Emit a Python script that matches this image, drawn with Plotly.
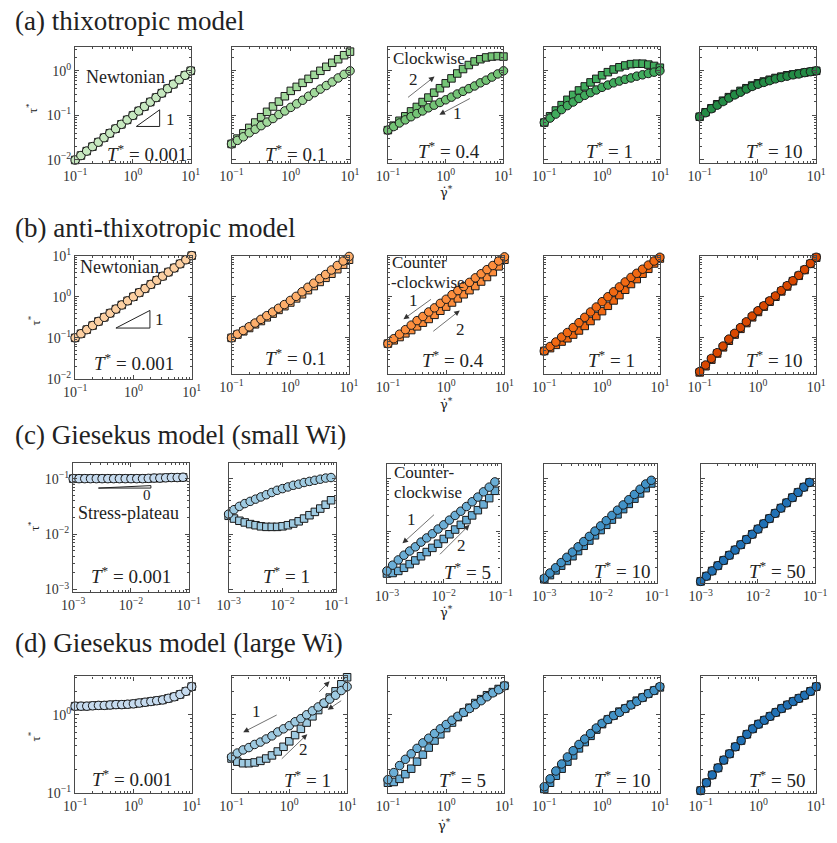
import plotly.graph_objects as go

W, H = 837, 843
SERIF = "Liberation Serif"
AX = "#4a4a4a"
EDGE = "#1a1a1a"

# ---------------- data ----------------
# shear-rate grids (x values)
GAMMA_DOT = [0.1, 0.1259, 0.1585, 0.1995, 0.2512, 0.3162, 0.3981, 0.5012, 0.631, 0.7943,
             1.0, 1.259, 1.585, 1.995, 2.512, 3.162, 3.981, 5.012, 6.31, 7.943, 10.0]
GAMMA_DOT_SMALL = [0.001, 0.001259, 0.001585, 0.001995, 0.002512, 0.003162, 0.003981, 0.005012,
                   0.00631, 0.007943, 0.01, 0.01259, 0.01585, 0.01995, 0.02512, 0.03162,
                   0.03981, 0.05012, 0.0631, 0.07943, 0.1]

# stress values, stored as decade exponents (tau* = 10**exponent)
A1_EXP = [-2.0, -1.9, -1.8, -1.7, -1.6, -1.5, -1.4, -1.3, -1.2, -1.1, -1.0,
          -0.9, -0.8, -0.7, -0.6, -0.5, -0.4, -0.3, -0.2, -0.1, 0.0]
A2_CIRC_EXP = [-1.64, -1.56, -1.48, -1.39, -1.31, -1.23, -1.15, -1.07, -0.98, -0.90, -0.82,
               -0.74, -0.66, -0.57, -0.49, -0.41, -0.33, -0.25, -0.16, -0.08, 0.0]
A2_SQ_EXP = [-1.64, -1.52, -1.40, -1.28, -1.16, -1.04, -0.92, -0.80, -0.69, -0.57, -0.45,
             -0.36, -0.27, -0.18, -0.09, 0.00, 0.09, 0.18, 0.26, 0.35, 0.43]
A3_CIRC_EXP = [-1.33, -1.25, -1.17, -1.10, -1.03, -0.96, -0.90, -0.83, -0.77, -0.71, -0.65,
               -0.59, -0.52, -0.46, -0.40, -0.34, -0.27, -0.21, -0.14, -0.07, 0.0]
A3_SQ_EXP = [-1.33, -1.23, -1.12, -1.02, -0.91, -0.81, -0.70, -0.60, -0.49, -0.39, -0.28,
             -0.17, -0.06, 0.04, 0.13, 0.21, 0.26, 0.30, 0.32, 0.33, 0.32]
A4_CIRC_EXP = [-1.16, -1.06, -0.97, -0.87, -0.78, -0.70, -0.62, -0.55, -0.49, -0.43, -0.37,
               -0.32, -0.27, -0.23, -0.19, -0.16, -0.12, -0.09, -0.06, -0.03, 0.0]
A4_SQ_EXP = [-1.16, -1.02, -0.89, -0.77, -0.65, -0.54, -0.44, -0.35, -0.26, -0.18, -0.10,
             -0.03, 0.03, 0.08, 0.12, 0.15, 0.16, 0.16, 0.14, 0.11, 0.07]
A5_CIRC_EXP = [-1.03, -0.94, -0.85, -0.77, -0.69, -0.61, -0.54, -0.48, -0.41, -0.35, -0.30,
               -0.26, -0.22, -0.18, -0.15, -0.12, -0.09, -0.07, -0.04, -0.02, 0.0]
A5_SQ_EXP = [-1.03, -0.93, -0.84, -0.75, -0.67, -0.59, -0.52, -0.45, -0.39, -0.33, -0.28,
             -0.24, -0.20, -0.16, -0.13, -0.10, -0.08, -0.06, -0.04, -0.02, 0.0]

B1_EXP = [-1.0, -0.9, -0.8, -0.7, -0.6, -0.5, -0.4, -0.3, -0.2, -0.1, 0.0,
          0.1, 0.2, 0.3, 0.4, 0.5, 0.6, 0.7, 0.8, 0.9, 1.0]
B2_CIRC_EXP = [-1.0, -0.91, -0.82, -0.73, -0.64, -0.55, -0.46, -0.37, -0.28, -0.19, -0.09,
               0.01, 0.12, 0.23, 0.33, 0.44, 0.54, 0.65, 0.76, 0.87, 0.98]
B2_SQ_EXP = [-1.0, -0.92, -0.84, -0.76, -0.67, -0.59, -0.50, -0.41, -0.32, -0.23, -0.14,
             -0.04, 0.06, 0.16, 0.26, 0.36, 0.46, 0.56, 0.67, 0.78, 0.90]
B3_CIRC_EXP = [-1.14, -1.02, -0.91, -0.80, -0.69, -0.58, -0.48, -0.37, -0.27, -0.16, -0.06,
               0.05, 0.15, 0.25, 0.35, 0.46, 0.56, 0.66, 0.76, 0.87, 0.97]
B3_SQ_EXP = [-1.14, -1.06, -0.98, -0.89, -0.81, -0.72, -0.63, -0.54, -0.44, -0.34, -0.24,
             -0.14, -0.04, 0.06, 0.16, 0.26, 0.37, 0.48, 0.60, 0.74, 0.90]
B4_CIRC_EXP = [-1.32, -1.21, -1.10, -0.98, -0.87, -0.75, -0.63, -0.50, -0.37, -0.25, -0.12,
               0.00, 0.12, 0.24, 0.36, 0.47, 0.57, 0.67, 0.77, 0.87, 0.96]
B4_SQ_EXP = [-1.32, -1.25, -1.17, -1.09, -1.01, -0.92, -0.82, -0.71, -0.59, -0.47, -0.35,
             -0.22, -0.09, 0.04, 0.17, 0.31, 0.43, 0.56, 0.68, 0.81, 0.93]
B5_CIRC_EXP = [-1.82, -1.66, -1.50, -1.36, -1.20, -1.03, -0.89, -0.75, -0.61, -0.47, -0.34,
               -0.22, -0.10, 0.02, 0.15, 0.27, 0.39, 0.52, 0.66, 0.81, 0.96]
B5_SQ_EXP = [-1.84, -1.69, -1.53, -1.38, -1.23, -1.07, -0.92, -0.78, -0.64, -0.50, -0.37,
             -0.24, -0.12, 0.00, 0.13, 0.25, 0.38, 0.51, 0.65, 0.80, 0.95]

C1_EXP = [-1.0, -1.0, -1.0, -1.0, -1.0, -1.0, -1.0, -1.0, -1.0, -1.0, -1.0,
          -1.0, -1.0, -0.995, -0.99, -0.99, -0.985, -0.98, -0.98, -0.975, -0.97]
C2_CIRC_EXP = [-1.64, -1.56, -1.50, -1.45, -1.41, -1.37, -1.33, -1.29, -1.25, -1.21, -1.18,
               -1.15, -1.12, -1.10, -1.07, -1.05, -1.03, -1.01, -0.99, -0.98, -0.97]
C2_SQ_EXP = [-1.67, -1.72, -1.76, -1.79, -1.82, -1.84, -1.86, -1.87, -1.87, -1.87, -1.86,
             -1.84, -1.81, -1.77, -1.72, -1.66, -1.60, -1.54, -1.47, -1.39, -1.30]
C3_CIRC_EXP = [-2.76, -2.65, -2.55, -2.46, -2.38, -2.30, -2.21, -2.13, -2.05, -1.96, -1.88,
               -1.79, -1.70, -1.62, -1.53, -1.44, -1.35, -1.25, -1.16, -1.06, -0.97]
C3_SQ_EXP = [-2.81, -2.80, -2.76, -2.70, -2.63, -2.56, -2.48, -2.40, -2.32, -2.24, -2.15,
             -2.06, -1.97, -1.88, -1.79, -1.70, -1.60, -1.49, -1.37, -1.23, -1.08]
C4_CIRC_EXP = [-2.90, -2.80, -2.70, -2.60, -2.50, -2.40, -2.30, -2.20, -2.10, -2.00, -1.90,
               -1.80, -1.70, -1.60, -1.50, -1.40, -1.30, -1.20, -1.10, -1.03, -0.97]
C4_SQ_EXP = [-2.92, -2.84, -2.75, -2.66, -2.57, -2.48, -2.38, -2.28, -2.18, -2.08, -1.98,
             -1.88, -1.78, -1.68, -1.58, -1.48, -1.38, -1.28, -1.18, -1.09, -1.02]
C5_EXP = [-2.96, -2.86, -2.76, -2.66, -2.56, -2.46, -2.36, -2.26, -2.16, -2.06, -1.96,
          -1.86, -1.76, -1.66, -1.56, -1.46, -1.36, -1.26, -1.16, -1.07, -0.97]

D1_EXP = [0.11, 0.11, 0.11, 0.115, 0.12, 0.12, 0.125, 0.13, 0.13, 0.135, 0.14,
          0.15, 0.16, 0.17, 0.18, 0.19, 0.21, 0.23, 0.26, 0.30, 0.36]
D2_CIRC_EXP = [-0.54, -0.49, -0.45, -0.42, -0.38, -0.35, -0.31, -0.27, -0.22, -0.18, -0.14,
               -0.09, -0.05, 0.00, 0.05, 0.10, 0.15, 0.20, 0.25, 0.31, 0.36]
D2_SQ_EXP = [-0.56, -0.60, -0.62, -0.62, -0.61, -0.59, -0.56, -0.52, -0.47, -0.41, -0.34,
             -0.26, -0.18, -0.10, -0.02, 0.06, 0.14, 0.22, 0.30, 0.39, 0.48]
D3_CIRC_EXP = [-0.83, -0.74, -0.65, -0.57, -0.50, -0.43, -0.36, -0.30, -0.24, -0.18, -0.125,
               -0.07, -0.02, 0.03, 0.08, 0.13, 0.18, 0.23, 0.28, 0.32, 0.37]
D3_SQ_EXP = [-0.87, -0.86, -0.82, -0.76, -0.69, -0.60, -0.51, -0.42, -0.33, -0.25, -0.17,
             -0.10, -0.03, 0.03, 0.09, 0.15, 0.20, 0.25, 0.29, 0.33, 0.37]
D4_CIRC_EXP = [-0.92, -0.82, -0.72, -0.63, -0.54, -0.46, -0.38, -0.31, -0.24, -0.17, -0.11,
               -0.06, -0.01, 0.03, 0.08, 0.125, 0.17, 0.22, 0.27, 0.31, 0.36]
D4_SQ_EXP = [-0.95, -0.87, -0.78, -0.69, -0.60, -0.52, -0.43, -0.35, -0.27, -0.19, -0.12,
             -0.06, -0.01, 0.04, 0.08, 0.13, 0.18, 0.22, 0.27, 0.31, 0.35]
D5_EXP = [-0.97, -0.87, -0.77, -0.68, -0.58, -0.50, -0.41, -0.33, -0.25, -0.18, -0.12,
          -0.07, -0.02, 0.03, 0.08, 0.125, 0.17, 0.21, 0.25, 0.30, 0.36]

ROW_TITLES = ["(a) thixotropic model", "(b) anti-thixotropic model",
              "(c) Giesekus model (small Wi)", "(d) Giesekus model (large Wi)"]
T_LABELS = [["0.001", "0.1", "0.4", "1", "10"],
            ["0.001", "0.1", "0.4", "1", "10"],
            ["0.001", "1", "5", "10", "50"],
            ["0.001", "1", "5", "10", "50"]]
ROW_COLORS = [["#c7e9c0", "#a1d99b", "#74c476", "#41ab5d", "#238b45"],
              ["#fdd0a2", "#fdae6b", "#fd8d3c", "#f16913", "#d94801"],
              ["#c6dbef", "#9ecae1", "#6baed6", "#4292c6", "#2171b5"],
              ["#c6dbef", "#9ecae1", "#6baed6", "#4292c6", "#2171b5"]]
SERIES = [  # (squares, circles) per panel
    [(A1_EXP, A1_EXP), (A2_SQ_EXP, A2_CIRC_EXP), (A3_SQ_EXP, A3_CIRC_EXP),
     (A4_SQ_EXP, A4_CIRC_EXP), (A5_SQ_EXP, A5_CIRC_EXP)],
    [(B1_EXP, B1_EXP), (B2_SQ_EXP, B2_CIRC_EXP), (B3_SQ_EXP, B3_CIRC_EXP),
     (B4_SQ_EXP, B4_CIRC_EXP), (B5_SQ_EXP, B5_CIRC_EXP)],
    [(C1_EXP, C1_EXP), (C2_SQ_EXP, C2_CIRC_EXP), (C3_SQ_EXP, C3_CIRC_EXP),
     (C4_SQ_EXP, C4_CIRC_EXP), (C5_EXP, C5_EXP)],
    [(D1_EXP, D1_EXP), (D2_SQ_EXP, D2_CIRC_EXP), (D3_SQ_EXP, D3_CIRC_EXP),
     (D4_SQ_EXP, D4_CIRC_EXP), (D5_EXP, D5_EXP)],
]
ROW_X = [GAMMA_DOT, GAMMA_DOT, GAMMA_DOT_SMALL, GAMMA_DOT]

X_TICKVALS = [[0.1, 1, 10], [0.1, 1, 10], [0.001, 0.01, 0.1], [0.1, 1, 10]]
X_TICKTEXT = [["10<sup>−1</sup>", "10<sup>0</sup>", "10<sup>1</sup>"],
              ["10<sup>−1</sup>", "10<sup>0</sup>", "10<sup>1</sup>"],
              ["10<sup>−3</sup>", "10<sup>−2</sup>", "10<sup>−1</sup>"],
              ["10<sup>−1</sup>", "10<sup>0</sup>", "10<sup>1</sup>"]]
Y_TICKVALS = [[0.01, 0.1, 1], [0.01, 0.1, 1, 10], [0.001, 0.01, 0.1], [0.1, 1]]
Y_TICKTEXT = [["10<sup>−2</sup>", "10<sup>−1</sup>", "10<sup>0</sup>"],
              ["10<sup>−2</sup>", "10<sup>−1</sup>", "10<sup>0</sup>", "10<sup>1</sup>"],
              ["10<sup>−3</sup>", "10<sup>−2</sup>", "10<sup>−1</sup>"],
              ["10<sup>−1</sup>", "10<sup>0</sup>"]]

# ---------------- layout geometry (pixels) ----------------
PANELS = [
    [(65, 184, 38, 156), (226, 348, 38, 156), (387, 506, 38, 156), (548, 667, 38, 156), (708, 828, 38, 156)],
    [(65, 185, 251, 377), (226, 347, 251, 372), (387, 507, 251, 372), (548, 667, 251, 372), (708, 828, 251, 372)],
    [(63, 182, 463, 595), (223, 334, 463, 595), (386, 503, 464, 586), (548, 664, 464, 586), (709, 827, 464, 586)],
    [(65, 185, 681, 800), (226, 345, 681, 800), (387, 507, 681, 800), (548, 667, 681, 800), (709, 828, 681, 800)],
]
X_RANGES = [[-1, 1], [-1, 1], [-3, -1], [-1, 1]]
Y_RANGES = [
    [[-2.06, 0.53]] * 5,
    [[-2.0, 1.0]] + [[-1.88, 1.0]] * 4,
    [[-3.05, -0.72]] * 2 + [[-3.0, -0.72]] * 3,
    [[-1.0, 0.49]] * 5,
]
T_POS = [
    [(139, 146), (292, 146), (450, 143), (615, 143), (785, 143)],
    [(126, 360), (292, 355), (454, 357), (617, 357), (785, 357)],
    [(123, 577), (283, 577), (469, 573), (628, 572), (788, 572)],
    [(124, 785), (304, 786), (464, 786), (628, 786), (788, 786)],
]
TITLE_Y = [11, 223, 434, 647]
TAU_POS = [(20, 100), (23, 317), (22, 527), (23, 742)]
GDOT_POS = [(447, 186), (447, 403), (447, 615), (445, 833)]

MINOR = [k * 10.0 ** e for e in range(-4, 2) for k in range(2, 10)]


def P(px, py):
    return px / W, 1 - py / H


fig = go.Figure()
layout = {}
annotations = []
shapes = []

idx = 0
for r in range(4):
    for c in range(5):
        idx += 1
        sfx = "" if idx == 1 else str(idx)
        l, rr, t, b = PANELS[r][c]
        xs = ROW_X[r]
        sq, ci = SERIES[r][c]
        col = ROW_COLORS[r][c]
        for exps, sym, size in ((sq, "square", 7.5), (ci, "circle", 8.5)):
            fig.add_trace(go.Scatter(
                x=xs, y=[10 ** e for e in exps], mode="markers",
                marker=dict(symbol=sym, size=size, color=col,
                            line=dict(color=EDGE, width=1)),
                xaxis="x" + sfx, yaxis="y" + sfx, cliponaxis=False,
                showlegend=False, hoverinfo="x+y"))
        common = dict(type="log", showline=True, linecolor=AX, linewidth=1.2,
                      mirror="allticks", ticks="inside", ticklen=4, tickwidth=1,
                      tickcolor=AX, showgrid=False, zeroline=False,
                      tickfont=dict(family=SERIF, size=14, color="#333"),
                      minor=dict(ticks="inside", ticklen=2, tickwidth=0.8,
                                 tickcolor=AX, tickvals=MINOR, showgrid=False),
                      tickmode="array")
        layout["xaxis" + sfx] = dict(common, domain=[l / W, rr / W], range=X_RANGES[r],
                                     anchor="y" + sfx, tickvals=X_TICKVALS[r],
                                     ticktext=X_TICKTEXT[r])
        layout["yaxis" + sfx] = dict(common, domain=[1 - b / H, 1 - t / H],
                                     range=Y_RANGES[r][c], anchor="x" + sfx,
                                     tickvals=Y_TICKVALS[r], ticktext=Y_TICKTEXT[r],
                                     showticklabels=(c == 0))
        tx, ty = P(*T_POS[r][c])
        annotations.append(dict(x=tx, y=ty, xref="paper", yref="paper", showarrow=False,
                                text="<i>T</i><sup>*</sup> = " + T_LABELS[r][c],
                                font=dict(family=SERIF, size=19, color="#222"),
                                xanchor="center", yanchor="middle"))


def txt(px, py, s, size=17, xanchor="center", angle=0, family=SERIF):
    x, y = P(px, py)
    annotations.append(dict(x=x, y=y, xref="paper", yref="paper", text=s, showarrow=False,
                            font=dict(family=family, size=size, color="#222"),
                            xanchor=xanchor, yanchor="middle", textangle=angle))


def arrow(tail, head):
    hx, hy = P(*head)
    annotations.append(dict(x=hx, y=hy, ax=tail[0] - head[0], ay=tail[1] - head[1],
                            xref="paper", yref="paper", axref="pixel", ayref="pixel",
                            showarrow=True, text="",
                            arrowhead=2, arrowsize=1.6, arrowwidth=0.7, arrowcolor="#333"))


def tri(p1, p2, p3):
    (x1, y1), (x2, y2), (x3, y3) = P(*p1), P(*p2), P(*p3)
    shapes.append(dict(type="path", xref="paper", yref="paper",
                       path=f"M {x1},{y1} L {x2},{y2} L {x3},{y3} Z",
                       line=dict(color="#222", width=1)))


for r in range(4):
    txt(1, TITLE_Y[r], ROW_TITLES[r], size=27, xanchor="left")
    txt(TAU_POS[r][0], TAU_POS[r][1], "τ<sup>*</sup>", size=13, angle=-90)
    txt(GDOT_POS[r][0], GDOT_POS[r][1], "γ̇<sup>*</sup>", size=13, family="DejaVu Serif")

# row (a)
txt(117, 68, "Newtonian", size=18)
tri((128, 119), (152, 102), (152, 119))
txt(163, 112, "1", size=17)
txt(390, 50, "Clockwise", size=17, xanchor="left")
txt(413, 71, "2", size=17)
arrow((407, 90), (435, 68))
txt(459, 106, "1", size=17)
arrow((472, 90), (440, 107))

# row (b)
txt(111, 263, "Newtonian", size=18)
tri((107, 325), (142, 307), (142, 325))
txt(152, 316, "1", size=17)
txt(389, 258, "Counter", size=17, xanchor="left")
txt(388, 278, "-clockwise", size=17, xanchor="left")
txt(413, 297, "1", size=17)
arrow((432, 295), (403, 316))
txt(462, 326, "2", size=17)
arrow((433, 329), (461, 307))

# row (c)
tri((89, 488.5), (143, 486), (143, 488.5))
txt(139, 496, "0", size=15)
txt(120, 514, "Stress-plateau", size=18)
txt(391, 473, "Counter-", size=17, xanchor="left")
txt(391, 493, "clockwise", size=17, xanchor="left")
txt(411, 521, "1", size=17)
arrow((435, 515), (402, 545))
txt(463, 547, "2", size=17)
arrow((440, 557), (471, 526))

# row (d)
txt(252, 717, "1", size=17)
arrow((273, 720), (238, 738))
txt(300, 756, "2", size=17)
arrow((277, 766), (304, 740))
arrow((315, 698), (327, 686))
arrow((340, 705), (325, 715))

fig.update_layout(width=W, height=H, margin=dict(l=0, r=0, t=0, b=0),
                  paper_bgcolor="white", plot_bgcolor="white",
                  annotations=annotations, shapes=shapes, **layout)
fig.write_html("out.html", config={"displayModeBar": False},
               post_script="document.body.style.margin='0';document.body.style.padding='0';")
